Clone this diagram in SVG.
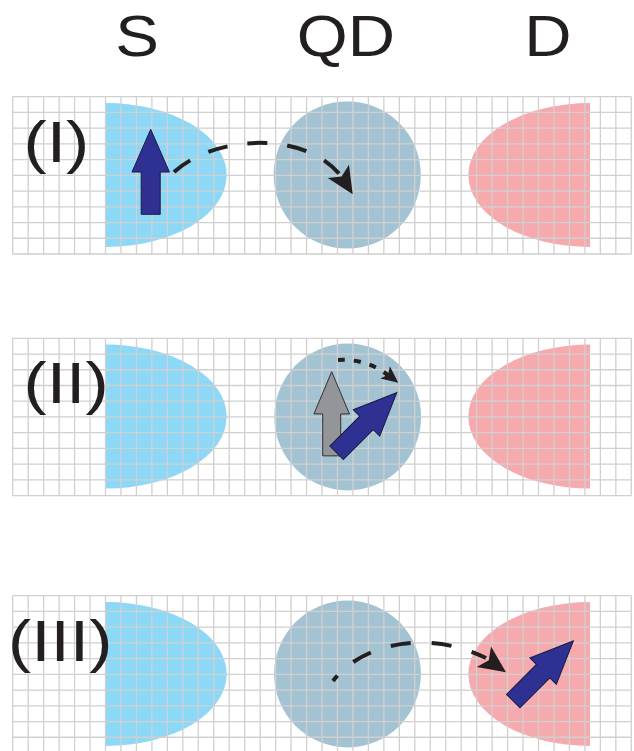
<svg xmlns="http://www.w3.org/2000/svg" xmlns:xlink="http://www.w3.org/1999/xlink" width="634" height="751" viewBox="0 0 634 751">
<style>
.src{fill:#8dd7f7}
.qd{fill:#a3c3d3}
.drn{fill:#f6aaae}
.gridl{fill:none;stroke:#d0d0d0;stroke-width:1.3}
.spin{fill:#2e3192;stroke:#1b1b40;stroke-width:1}
.spin0{fill:#939598;stroke:#2b2b2b;stroke-width:1}
.path{fill:none;stroke:#231f20;stroke-width:4}
.head{fill:#231f20}
.t{font-family:"Liberation Sans",Arial,sans-serif;fill:#231f20}
</style>
<defs>
<path id="grid" class="gridl" d="M0,0H618.6M0,15.73H618.6M0,31.46H618.6M0,47.19H618.6M0,62.92H618.6M0,78.65H618.6M0,94.38H618.6M0,110.11H618.6M0,125.84H618.6M0,141.57H618.6M0,157.3H618.6M0,0V157.3M15.47,0V157.3M30.93,0V157.3M46.4,0V157.3M61.86,0V157.3M77.33,0V157.3M92.79,0V157.3M108.26,0V157.3M123.72,0V157.3M139.19,0V157.3M154.65,0V157.3M170.12,0V157.3M185.58,0V157.3M201.05,0V157.3M216.51,0V157.3M231.98,0V157.3M247.44,0V157.3M262.91,0V157.3M278.37,0V157.3M293.84,0V157.3M309.3,0V157.3M324.77,0V157.3M340.23,0V157.3M355.7,0V157.3M371.16,0V157.3M386.63,0V157.3M402.09,0V157.3M417.56,0V157.3M433.02,0V157.3M448.49,0V157.3M463.95,0V157.3M479.42,0V157.3M494.88,0V157.3M510.35,0V157.3M525.81,0V157.3M541.28,0V157.3M556.74,0V157.3M572.21,0V157.3M587.67,0V157.3M603.14,0V157.3M618.6,0V157.3"/>
<path id="arrow" d="M0,0L18.7,42.7L9.5,42.7L9.5,85L-9.5,85L-9.5,42.7L-18.7,42.7Z"/>
<path id="head" d="M0,0L-27,-12.5L-21,0L-27,12.5Z"/>
</defs>

<g id="titles">
<text class="t" font-size="58" text-anchor="middle" transform="translate(137,56) scale(1.13,1)">S</text>
<text class="t" font-size="58" text-anchor="middle" transform="translate(346,56) scale(1.13,1)">QD</text>
<text class="t" font-size="58" text-anchor="middle" transform="translate(548,56) scale(1.13,1)">D</text>
</g>

<!-- Panel I -->
<g id="panel1">
<g id="S1"><path class="src" d="M106,103 A120.7,72 0 0 1 106,247 Z"/></g>
<g id="QD1"><circle class="qd" cx="347.2" cy="175" r="73.6"/></g>
<g id="D1"><path class="drn" d="M590,103 A121.7,72 0 0 0 590,247 Z"/></g>
<use href="#grid" transform="translate(12.7,96.7)"/>
<text class="t" font-size="58" transform="translate(23.6,162) scale(1.2,1)">(I)</text>
<g id="spin1"><use href="#arrow" class="spin" transform="translate(150.7,129.3)"/></g>
</g>

<!-- Panel II -->
<g id="panel2">
<g id="S2"><path class="src" d="M106,344.6 A120.7,72 0 0 1 106,488.6 Z"/></g>
<g id="QD2"><circle class="qd" cx="347.7" cy="417" r="73.4"/></g>
<g id="D2"><path class="drn" d="M590,344.6 A121.7,72 0 0 0 590,488.6 Z"/></g>
<use href="#grid" transform="translate(12.7,338.3)"/>
<text class="t" font-size="58" transform="translate(23.6,403.3) scale(1.2,1)">(II)</text>
<g id="spin2a"><use href="#arrow" class="spin0" transform="translate(331.7,371.7) scale(0.95,0.99)"/></g>
<g id="spin2b"><use href="#arrow" class="spin" transform="translate(396.7,392.7) rotate(45)"/></g>
</g>

<!-- Panel III -->
<g id="panel3">
<g id="S3"><path class="src" d="M106,602 A120.7,72 0 0 1 106,746 Z"/></g>
<g id="QD3"><circle class="qd" cx="347.5" cy="674" r="73.4"/></g>
<g id="D3"><path class="drn" d="M590,602 A121.7,72 0 0 0 590,746 Z"/></g>
<use href="#grid" transform="translate(12.7,595.7)"/>
<text class="t" font-size="58" transform="translate(8,660.7) scale(1.2,1)">(III)</text>
<g id="spin3"><use href="#arrow" class="spin" transform="translate(573.3,641) rotate(45)"/></g>
</g>

<g id="connectors">
<path class="path" stroke-dasharray="20 20" d="M174,172C215,135 305,130 341,176"/>
<use href="#head" class="head" transform="translate(352.7,194.3) rotate(58)"/>
<path class="path" stroke-width="3" stroke-dasharray="7 9" d="M338,360C352,359 372,362 389,376"/>
<use href="#head" class="head" transform="translate(398.3,382.7) rotate(38) scale(0.62)"/>
<path class="path" stroke-dasharray="20 21" stroke-dashoffset="13" d="M333,681C360,645 425,628 486,658"/>
<use href="#head" class="head" transform="translate(506,672.3) rotate(35)"/>
</g>
</svg>
